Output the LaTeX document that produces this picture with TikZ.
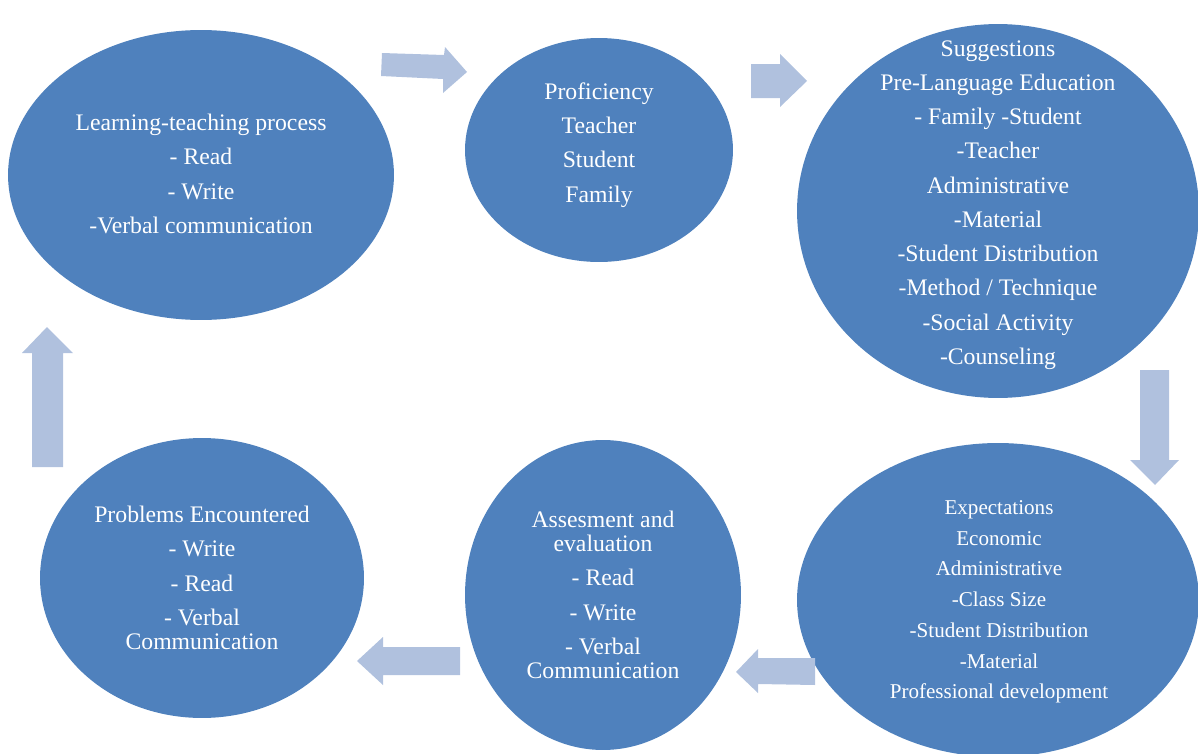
\documentclass[tikz,border=0pt]{standalone}
\usepackage{fontspec}
\setmainfont{Liberation Serif}
\usetikzlibrary{shapes.geometric}
\definecolor{stageblue}{RGB}{79,129,189}
\definecolor{arrowblue}{RGB}{176,193,222}
\tikzset{
  stage/.style={ellipse, fill=stageblue, inner sep=0pt},
  stagetext/.style={text=white, align=center, font=\fontsize{13.5}{19.5}\selectfont},
  smalltext/.style={text=white, align=center, font=\fontsize{12}{17.5}\selectfont},
  blockarrow/.style={fill=arrowblue}
}
\begin{document}
\begin{tikzpicture}[x=0.02cm, y=-0.02cm]
  \useasboundingbox (0,0) rectangle (1198,754);

  % Stages
  \node[stage, minimum width=7.72cm, minimum height=5.8cm] (learn) at (201,175) {};
  \node[stage, minimum width=5.36cm, minimum height=4.48cm] (prof) at (599,150) {};
  \node[stage, minimum width=8.04cm, minimum height=7.48cm] (sugg) at (998,211) {};
  \node[stage, minimum width=8.04cm, minimum height=6.28cm] (expect) at (998,600) {};
  \node[stage, minimum width=5.52cm, minimum height=6.2cm] (assess) at (603,595) {};
  \node[stage, minimum width=6.48cm, minimum height=5.6cm] (prob) at (202,578) {};

  % Texts
  \node[stagetext] (learntext) at (201,174) {Learning-teaching process\\ - Read\\ - Write\\ -Verbal communication};
  \node[stagetext] (proftext) at (599,145) {Proficiency\\ Teacher\\ Student\\ Family};
  \node[stagetext] (suggtext) at (998,205) {Suggestions\\ Pre-Language Education\\ - Family -Student\\ -Teacher\\ Administrative\\ -Material\\ -Student Distribution\\ -Method / Technique\\ -Social Activity\\ -Counseling};
  \node[smalltext] (expecttext) at (999,602) {Expectations\\ Economic\\ Administrative\\ -Class Size\\ -Student Distribution\\ -Material\\ Professional development};
  \node[stagetext] (assesstext) at (603,595) {Assesment and\\[-5.8pt] evaluation\\ - Read\\ - Write\\ - Verbal\\[-5.8pt] Communication};
  \node[stagetext] (probtext) at (202,578) {Problems Encountered\\ - Write\\ - Read\\ - Verbal\\[-5.8pt] Communication};

  % Block arrows
  \fill[blockarrow] (382,53) -- (444,55) -- (445,47) -- (467,72) -- (443,93) -- (443,79) -- (381,76) -- cycle;
  \fill[blockarrow] (751,64) -- (780,64) -- (780,54) -- (807,81) -- (780,107) -- (780,98) -- (751,98) -- cycle;
  \fill[blockarrow] (1140,370) -- (1169,370) -- (1169,460) -- (1179,460) -- (1155,485) -- (1130,460) -- (1140,460) -- cycle;
  \fill[blockarrow] (815,658) -- (758,658) -- (758,649) -- (736,672) -- (758,693) -- (758,684) -- (815,685) -- cycle;
  \fill[blockarrow] (460,647) -- (383,647) -- (383,637) -- (357,661) -- (383,685) -- (383,675) -- (460,675) -- cycle;
  \fill[blockarrow] (32,467) -- (32,353) -- (22,353) -- (47,327) -- (73,353) -- (63,353) -- (63,467) -- cycle;
\end{tikzpicture}
\end{document}
